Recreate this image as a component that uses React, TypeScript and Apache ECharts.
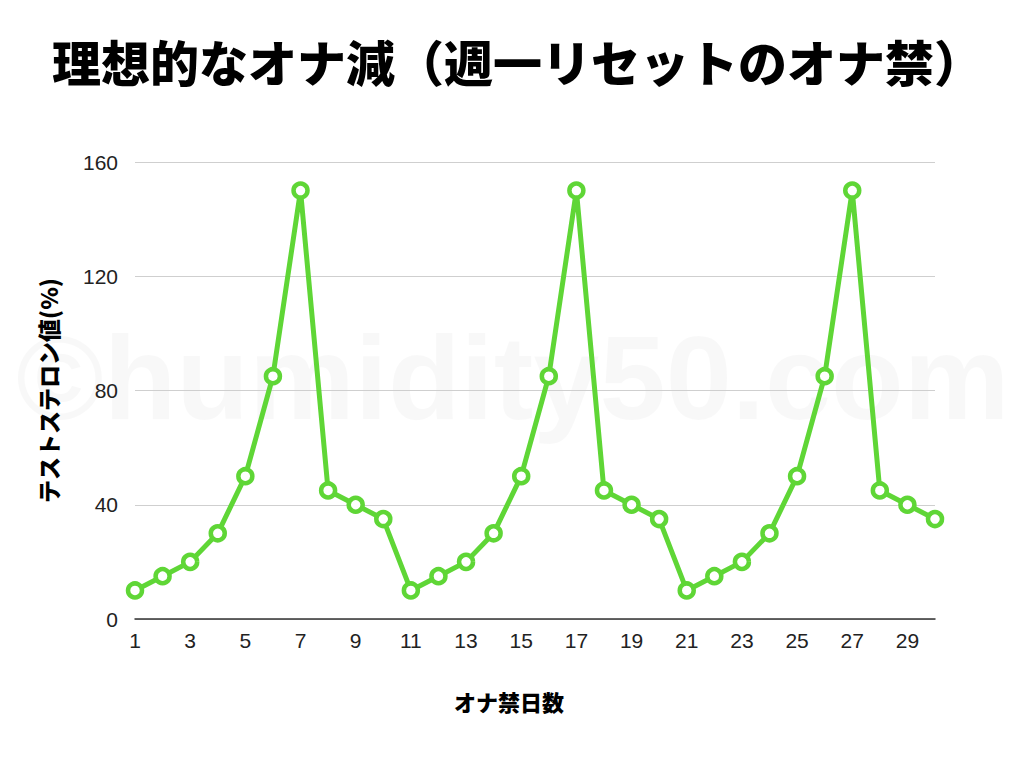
import React, { useEffect, useRef } from "react";
import * as echarts from "echarts";

const days = Array.from({ length: 30 }, (_, i) => String(i + 1));
const testosterone = [
  10, 15, 20, 30, 50, 85, 150, 45, 40, 35,
  10, 15, 20, 30, 50, 85, 150, 45, 40, 35,
  10, 15, 20, 30, 50, 85, 150, 45, 40, 35,
];
const titleText = "理想的なオナ減（週一リセットのオナ禁）";
const yName = "テストステロン値(%)";
const xName = "オナ禁日数";
const watermark = "©humidity50.com";

const FONT = "'Noto Sans CJK JP', 'Noto Sans', sans-serif";

export default function App() {
  const ref = useRef<HTMLDivElement>(null);
  useEffect(() => {
    const chart = echarts.init(ref.current!, null, { renderer: "svg" });
    chart.setOption({
      animation: false,
      backgroundColor: "#ffffff",
      textStyle: { fontFamily: FONT },
      grid: { left: 135, right: 89, top: 162, bottom: 151, containLabel: false },
      graphic: [
        {
          type: "text",
          z: -10,
          zlevel: 0,
          silent: true,
          left: 16,
          top: 318,
          style: {
            text: watermark,
            fontSize: 119,
            fontWeight: "bold",
            fontFamily: "'Liberation Sans', Arial, sans-serif",
            fill: "rgba(0,0,0,0.028)",
          },
        },
        {
          type: "text",
          left: 52,
          top: 36,
          style: {
            text: titleText,
            fontSize: 49,
            fontWeight: 900,
            fontFamily: FONT,
            fill: "#000",
          },
        },
        {
          type: "text",
          left: 454,
          top: 690,
          style: {
            text: xName,
            fontSize: 22,
            fontWeight: 900,
            fontFamily: FONT,
            fill: "#000",
          },
        },
      ],
      xAxis: {
        type: "category",
        data: days,
        boundaryGap: false,
        axisLine: { lineStyle: { color: "#333", width: 1.5 } },
        axisTick: { show: false },
        axisLabel: {
          interval: 1,
          fontSize: 21,
          color: "#222",
          margin: 11,
          fontFamily: "'Liberation Sans', Arial, sans-serif",
        },
      },
      yAxis: {
        type: "value",
        min: 0,
        max: 160,
        interval: 40,
        name: yName,
        nameLocation: "middle",
        nameGap: 76,
        nameRotate: 90,
        nameTextStyle: { fontSize: 23, fontWeight: 900, color: "#000", fontFamily: FONT },
        axisLine: { show: false },
        axisTick: { show: false },
        axisLabel: {
          fontSize: 21,
          color: "#222",
          margin: 17,
          fontFamily: "'Liberation Sans', Arial, sans-serif",
        },
        splitLine: { lineStyle: { color: "#cfcfcf", width: 1 } },
      },
      series: [
        {
          type: "line",
          data: testosterone,
          z: 5,
          symbol: "circle",
          symbolSize: 14,
          lineStyle: { color: "#5fd636", width: 5 },
          itemStyle: { color: "#ffffff", borderColor: "#5fd636", borderWidth: 4.5 },
        },
      ],
    });
    return () => chart.dispose();
  }, []);
  return <div ref={ref} style={{ width: 1024, height: 770, margin: -8 }} />;
}
